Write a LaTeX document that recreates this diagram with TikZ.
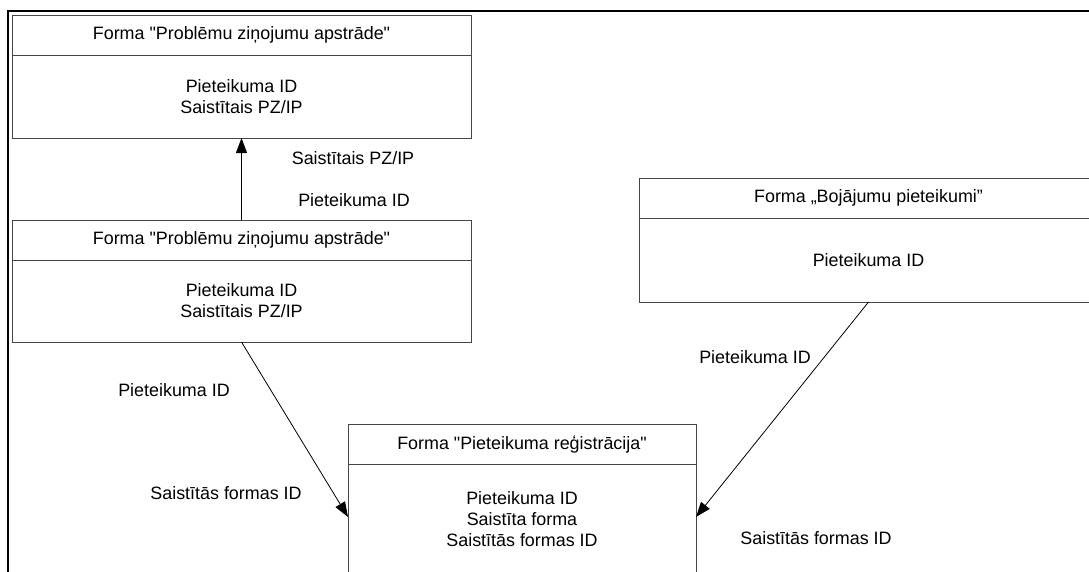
\documentclass[tikz,border=0pt]{standalone}
\usepackage{fontspec}
\setmainfont{Liberation Sans}[Ligatures=TeXOff]
\usetikzlibrary{arrows.meta}

\definecolor{boxline}{RGB}{70,70,70}

\begin{document}
\begin{tikzpicture}[x=1pt,y=-1pt,
  every node/.style={font=\fontsize{17.9}{21}\selectfont},
  hdr/.style={draw=boxline, line width=1pt, minimum width=459pt, minimum height=40pt,
              inner sep=0pt, outer sep=0pt, anchor=north west},
  body/.style={draw=boxline, line width=1pt, minimum width=459pt, align=center,
               inner sep=0pt, outer sep=0pt, anchor=north west},
  conn/.style={draw=black, line width=0.8pt, -{Triangle[length=15pt,width=11pt]}},
  lbl/.style={inner sep=0pt}
]
\useasboundingbox (0,0) rectangle (1089,571);
\clip (0,0) rectangle (1089,571);

% outer frame
\draw[line width=2.5pt] (8,600) -- (8,11) -- (1100,11);

% upper "Problēmu ziņojumu apstrāde" form
\node[hdr] (aH) at (12,15) {Forma "Problēmu ziņojumu apstrāde"};
\node[body, minimum height=83pt] (aB) at (aH.south west) {Pieteikuma ID\\Saistītais PZ/IP};

% lower "Problēmu ziņojumu apstrāde" form
\node[hdr] (bH) at (12,220) {Forma "Problēmu ziņojumu apstrāde"};
\node[body, minimum height=82pt] (bB) at (bH.south west) {Pieteikuma ID\\Saistītais PZ/IP};

% "Bojājumu pieteikumi" form
\node[hdr] (cH) at (639,178) {Forma „Bojājumu pieteikumi”};
\node[body, minimum height=84pt] (cB) at (cH.south west) {Pieteikuma ID};

% "Pieteikuma reģistrācija" form
\node[hdr, minimum width=348pt] (dH) at (348,424) {Forma "Pieteikuma reģistrācija"};
\node[body, minimum width=348pt, minimum height=110pt] (dB) at (dH.south west)
  {Pieteikuma ID\\Saistīta forma\\Saistītās formas ID};

% connectors
\draw[conn] (bH.north) -- (aB.south);
\draw[conn] (bB.south) -- ([yshift=2pt]dB.west);
\draw[conn] (cB.south) -- ([yshift=2pt]dB.east);

% connector labels
\node[lbl] (l1) at (353,158) {Saistītais PZ/IP};
\node[lbl] (l2) at (354,200) {Pieteikuma ID};
\node[lbl] (l3) at (174,390) {Pieteikuma ID};
\node[lbl] (l4) at (226,493) {Saistītās formas ID};
\node[lbl] (l5) at (755,357) {Pieteikuma ID};
\node[lbl] (l6) at (816,538) {Saistītās formas ID};
\end{tikzpicture}
\end{document}
